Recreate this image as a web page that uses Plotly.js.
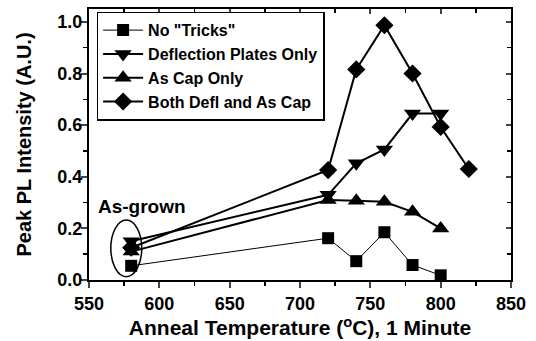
<!DOCTYPE html>
<html>
<head>
<meta charset="utf-8">
<script src="https://cdn.plot.ly/plotly-3.0.1.min.js"></script>
<style>html,body{margin:0;padding:0;background:#fff;}#chart{width:536px;height:341px;}</style>
</head>
<body>
<div id="chart"></div>
<script>
const seriesNames = ['No "Tricks"', 'Deflection Plates Only', 'As Cap Only', 'Both Defl and As Cap'];
const tempsNoTricks = [580, 720, 740, 760, 780, 800];
const valsNoTricks = [0.055, 0.162, 0.073, 0.185, 0.058, 0.018];
const tempsDefl = [580, 720, 740, 760, 780, 800];
const valsDefl = [0.15, 0.33, 0.452, 0.506, 0.645, 0.645];
const tempsAsCap = [580, 720, 740, 760, 780, 800];
const valsAsCap = [0.11, 0.31, 0.307, 0.303, 0.264, 0.2];
const tempsBoth = [580, 720, 740, 760, 780, 800, 820];
const valsBoth = [0.125, 0.426, 0.816, 0.987, 0.8, 0.593, 0.43];
const xTickVals = [550, 600, 650, 700, 750, 800, 850];
const xTickText = ['550', '600', '650', '700', '750', '800', '850'];
const yTickVals = [0.0, 0.2, 0.4, 0.6, 0.8, 1.0];
const yTickText = ['0.0', '0.2', '0.4', '0.6', '0.8', '1.0'];

const FONT = 'Arial, "Liberation Sans", sans-serif';
const xRange = [550, 850];
const yRange = [0, 1.05];
const bold = arr => arr.map(s => '<b>' + s + '</b>');

const traces = [
  {x: tempsNoTricks, y: valsNoTricks, name: '<b>' + seriesNames[0] + '</b>', mode: 'lines+markers',
   line: {color: '#000', width: 1}, marker: {symbol: 'square', size: 12, color: '#000'}},
  {x: tempsDefl, y: valsDefl, name: '<b>' + seriesNames[1] + '</b>', mode: 'lines+markers',
   line: {color: '#000', width: 2}, marker: {symbol: 'triangle-down', size: 15, color: '#000'}},
  {x: tempsAsCap, y: valsAsCap, name: '<b>' + seriesNames[2] + '</b>', mode: 'lines+markers',
   line: {color: '#000', width: 2}, marker: {symbol: 'triangle-up', size: 15, color: '#000'}},
  {x: tempsBoth, y: valsBoth, name: '<b>' + seriesNames[3] + '</b>', mode: 'lines+markers',
   line: {color: '#000', width: 2}, marker: {symbol: 'diamond', size: 14, color: '#000'}},
  {x: [null], y: [null], xaxis: 'x2', yaxis: 'y2', showlegend: false, hoverinfo: 'skip', mode: 'markers'}
];

const layout = {
  width: 536, height: 341,
  margin: {l: 89, r: 25, t: 9, b: 61},
  paper_bgcolor: '#fff', plot_bgcolor: '#fff',
  font: {family: FONT, color: '#000', size: 18},
  showlegend: true,
  legend: {x: 0.018, y: 0.99, xanchor: 'left', yanchor: 'top',
    bordercolor: '#000', borderwidth: 1.5, bgcolor: '#fff',
    font: {family: FONT, size: 16, color: '#000'},
    itemwidth: 40, tracegroupgap: 0},
  xaxis: {range: xRange, tickvals: xTickVals, ticktext: bold(xTickText), ticks: 'outside', ticklen: 6, tickwidth: 2,
    showline: true, linewidth: 2, linecolor: '#000', showgrid: false, zeroline: false,
    minor: {dtick: 25, ticks: 'outside', ticklen: 4, tickwidth: 1.5, tickcolor: '#000', showgrid: false},
    tickfont: {family: FONT, size: 18},
    title: {text: '<b>Anneal Temperature (<sup>o</sup>C), 1 Minute</b>', font: {family: FONT, size: 21}, standoff: 2}},
  yaxis: {range: yRange, tickvals: yTickVals, ticktext: bold(yTickText), ticks: 'outside', ticklen: 6, tickwidth: 2,
    showline: true, linewidth: 2, linecolor: '#000', showgrid: false, zeroline: false,
    ticklabelstandoff: -5,
    minor: {dtick: 0.1, ticks: 'outside', ticklen: 4, tickwidth: 1.5, tickcolor: '#000', showgrid: false},
    tickfont: {family: FONT, size: 18},
    title: {text: '<b>Peak PL Intensity (A.U.)</b>', font: {family: FONT, size: 20}, standoff: 20}},
  xaxis2: {range: xRange, overlaying: 'x', side: 'top', tickvals: xTickVals, ticks: 'inside', ticklen: 5, tickwidth: 2,
    showticklabels: false, showline: true, linewidth: 2, linecolor: '#000', showgrid: false, zeroline: false,
    minor: {dtick: 25, ticks: 'inside', ticklen: 4, tickwidth: 1.5, tickcolor: '#000', showgrid: false}},
  yaxis2: {range: yRange, overlaying: 'y', side: 'right', tickvals: yTickVals, ticks: 'inside', ticklen: 5, tickwidth: 2,
    showticklabels: false, showline: true, linewidth: 2, linecolor: '#000', showgrid: false, zeroline: false,
    minor: {dtick: 0.1, ticks: 'inside', ticklen: 4, tickwidth: 1.5, tickcolor: '#000', showgrid: false}},
  shapes: [
    {type: 'circle', xref: 'x', yref: 'y', x0: 565.5, x1: 587.5, y0: 0.013, y1: 0.232,
     line: {color: '#000', width: 1.5}}
  ],
  annotations: [
    {text: '<b>As-grown</b>', xref: 'x', yref: 'y', x: 587.5, y: 0.283, showarrow: false,
     font: {family: FONT, size: 19, color: '#000'}}
  ]
};

Plotly.newPlot('chart', traces, layout, {displayModeBar: false, staticPlot: true});
</script>
</body>
</html>
